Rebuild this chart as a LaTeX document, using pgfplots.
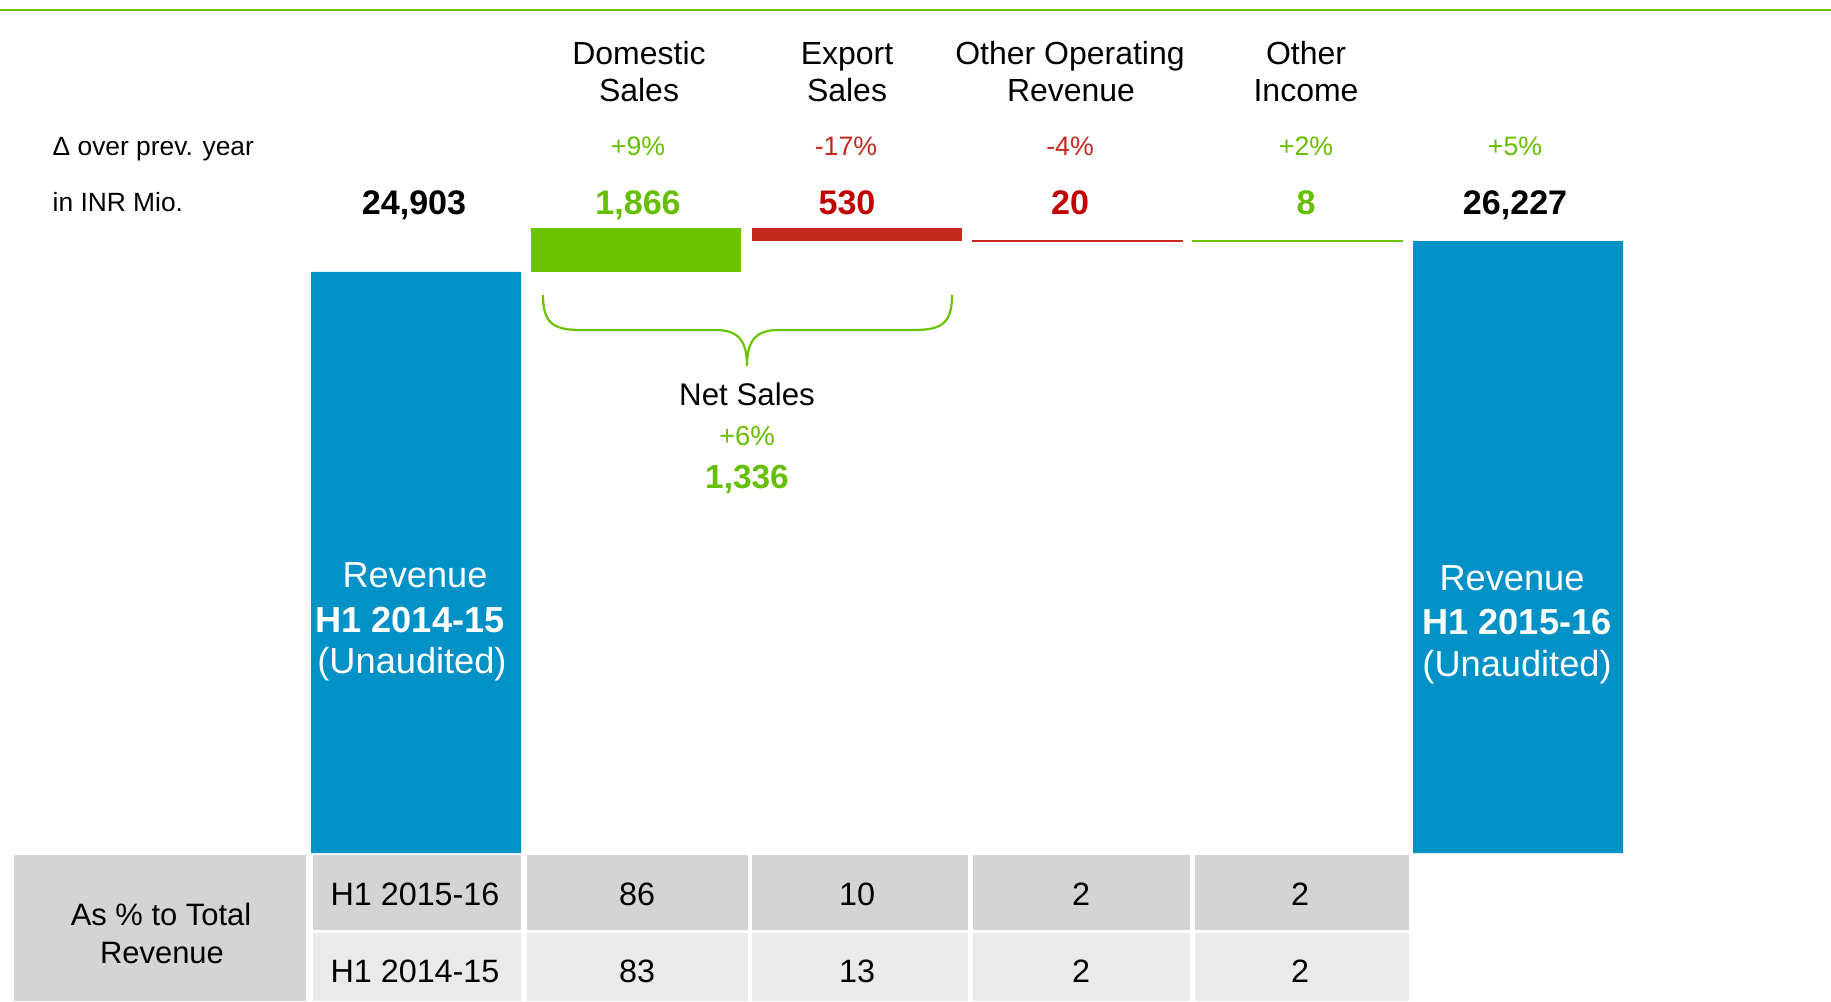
\documentclass[border=0pt]{standalone}
\usepackage{fontspec}
\setmainfont{Liberation Sans}
\usepackage{pgfplots}
\pgfplotsset{compat=1.18}

\definecolor{cblue}{RGB}{0,145,199}
\definecolor{cgreen}{RGB}{107,194,0}
\definecolor{cred}{RGB}{196,40,30}
\definecolor{tgreen}{RGB}{102,190,0}
\definecolor{tred}{RGB}{192,0,0}
\definecolor{gdark}{RGB}{212,212,212}
\definecolor{glight}{RGB}{234,234,234}

\newcommand{\fs}[1]{\fontsize{#1pt}{#1pt}\selectfont}

\begin{document}
\begin{tikzpicture}
\useasboundingbox (0,0) rectangle (183.1mm,100.1mm);
\begin{axis}[
    at={(0,0)}, anchor=south west,
    scale only axis,
    width=183.1mm, height=100.1mm,
    xmin=-1.8875, xmax=6.4201,
    ymin=-6343, ymax=36560,
    hide axis, clip=false,
]
% totals: revenue H1 2014-15 and H1 2015-16
\addplot[ybar, bar width=21mm, bar shift=0pt, fill=cblue, draw=none]
    coordinates {(0,24903) (5,26227)};
% floating bars (start -> end)
% domestic sales +1,866
\addplot[fill=cgreen, draw=none, mark=none]
    coordinates {(0.5236,24903) (1.4764,24903) (1.4764,26769) (0.5236,26769)};
% export sales -530
\addplot[fill=cred, draw=none, mark=none]
    coordinates {(1.5236,26769) (2.4764,26769) (2.4764,26239) (1.5236,26239)};
% other operating revenue -20
\addplot[fill=cred, draw=cred, line width=0.12mm, mark=none]
    coordinates {(2.5236,26239) (3.4764,26239) (3.4764,26219) (2.5236,26219) (2.5236,26239)};
% other income +8
\addplot[fill=cgreen, draw=cgreen, line width=0.12mm, mark=none]
    coordinates {(3.5236,26219) (4.4764,26219) (4.4764,26227) (3.5236,26227) (3.5236,26219)};
\end{axis}

\begin{scope}[x=0.1mm, y=-0.1mm, shift={(0,100.1mm)},
    every node/.style={inner sep=0pt, anchor=base}]
\draw[cgreen, line width=0.15mm] (0,10) -- (1831,10);

% category headers
\begin{scope}[font=\fs{9.1}]
\node at (639,65) {Domestic};  \node at (639,102) {Sales};
\node at (847,65) {Export};    \node at (847,102) {Sales};
\node at (1070,65) {Other Operating}; \node at (1071,102) {Revenue};
\node at (1306,65) {Other};    \node at (1306,102) {Income};
\end{scope}

% change row
\node[anchor=base west, font=\fs{7.5}] at (52,156) {Δ over prev. year};
\begin{scope}[font=\fs{7.6}]
\node[text=tgreen] at (638,156) {+9\%};
\node[text=cred]   at (846,156) {-17\%};
\node[text=cred]   at (1070,156) {-4\%};
\node[text=tgreen] at (1306,156) {+2\%};
\node[text=tgreen] at (1515,156) {+5\%};
\end{scope}

% values row
\node[anchor=base west, font=\fs{7.5}] at (52,212) {in INR Mio.};
\begin{scope}[font=\fs{9.7}\bfseries]
\node at (414,214) {24,903};
\node[text=tgreen] at (638,214) {1,866};
\node[text=tred]   at (847,214) {530};
\node[text=tred]   at (1070,214) {20};
\node[text=tgreen] at (1306,214) {8};
\node at (1515,214) {26,227};
\end{scope}

% text inside the total bars
\begin{scope}[font=\fs{10.3}, text=white]
\node at (415,587) {Revenue};
\node[font=\fs{10.3}\bfseries] at (410,632) {H1 2014-15};
\node at (412,673) {(Unaudited)};
\node at (1512,590) {Revenue};
\node[font=\fs{10.3}\bfseries] at (1517,634) {H1 2015-16};
\node at (1517,676) {(Unaudited)};
\end{scope}

% net sales brace
\draw[cgreen, line width=0.22mm]
  (543,295) .. controls (543,325) and (555,330) .. (582,330) -- (716,330)
  .. controls (740,330) and (747,343) .. (747,366)
  .. controls (747,343) and (754,330) .. (778,330) -- (913,330)
  .. controls (940,330) and (952,325) .. (952,295);
\node[font=\fs{8.9}] at (747,405) {Net Sales};
\node[font=\fs{7.85}, text=tgreen] at (747,445) {+6\%};
\node[font=\fs{9.5}\bfseries, text=tgreen] at (747,488) {1,336};

% share table
\fill[gdark] (14,855) rectangle (306,1001);
\foreach \a/\b in {313/521,527/748,752/968,973/1190,1195/1409} {
  \fill[gdark]  (\a,855) rectangle (\b,930);
  \fill[glight] (\a,933) rectangle (\b,1001);
}
\begin{scope}[font=\fs{8.8}]
\node at (161,925) {As \% to Total};
\node at (162,963) {Revenue};
\end{scope}
\begin{scope}[font=\fs{9.2}]
\node at (415,905) {H1 2015-16};
\node at (415,982) {H1 2014-15};
\node at (637,905) {86};  \node at (857,905) {10};
\node at (1081,905) {2};  \node at (1300,905) {2};
\node at (637,982) {83};  \node at (857,982) {13};
\node at (1081,982) {2};  \node at (1300,982) {2};
\end{scope}
\end{scope}
\end{tikzpicture}
\end{document}
